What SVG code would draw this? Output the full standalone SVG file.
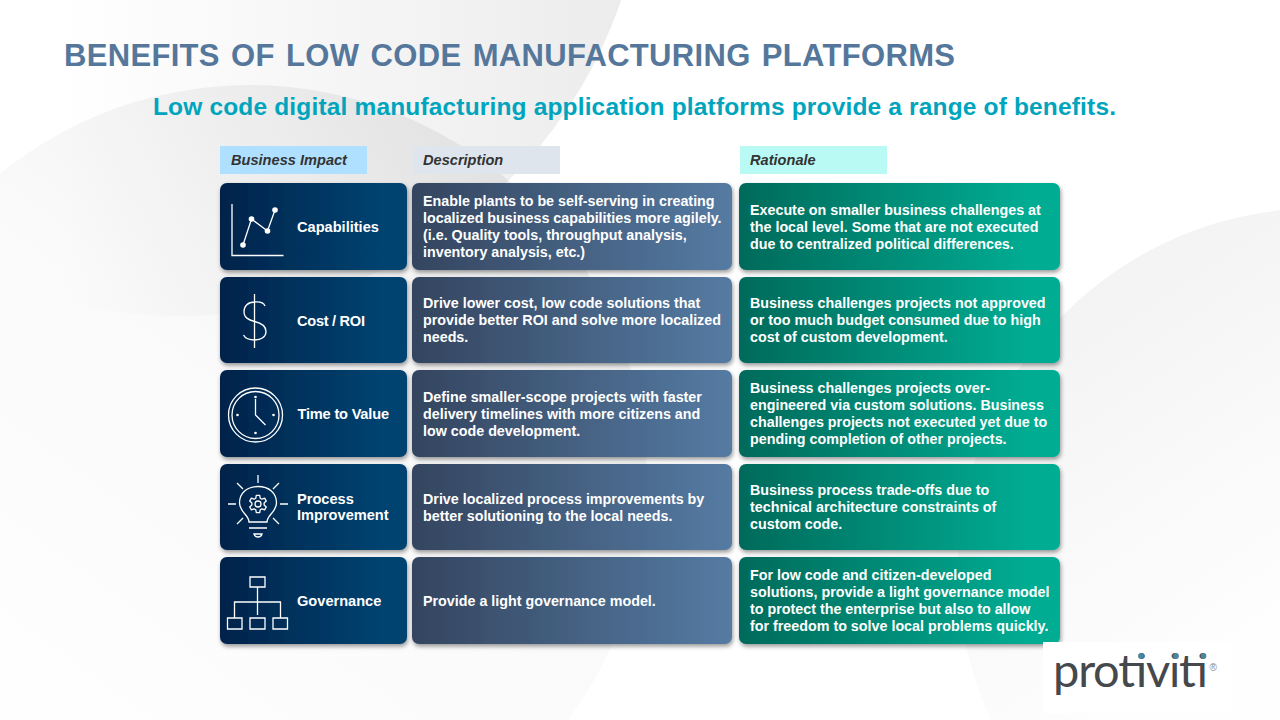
<svg xmlns="http://www.w3.org/2000/svg" width="1280" height="720" viewBox="0 0 1280 720">
<defs>
<linearGradient id="gi" x1="0" y1="0" x2="1" y2="0"><stop offset="0" stop-color="#02234a"/><stop offset="0.85" stop-color="#004270"/></linearGradient>
<linearGradient id="gd" x1="0" y1="0" x2="1" y2="0"><stop offset="0" stop-color="#34455f"/><stop offset="1" stop-color="#557ba3"/></linearGradient>
<linearGradient id="gr" x1="0" y1="0" x2="1" y2="0"><stop offset="0" stop-color="#036a5b"/><stop offset="0.9" stop-color="#00ac92"/></linearGradient>
<filter id="sh" x="-5%" y="-5%" width="110%" height="115%"><feDropShadow dx="1" dy="2.500" stdDeviation="2" flood-color="#000" flood-opacity="0.400"/></filter>
<linearGradient id="bg1" gradientUnits="userSpaceOnUse" x1="60" y1="60" x2="625" y2="60"><stop offset="0" stop-color="#808080" stop-opacity="0"/><stop offset="1" stop-color="#808080" stop-opacity="0.150"/></linearGradient>
<linearGradient id="bg2" gradientUnits="userSpaceOnUse" x1="20" y1="640" x2="420" y2="90"><stop offset="0" stop-color="#808080" stop-opacity="0.010"/><stop offset="0.500" stop-color="#808080" stop-opacity="0.040"/><stop offset="1" stop-color="#808080" stop-opacity="0.130"/></linearGradient>
<linearGradient id="bg3" gradientUnits="userSpaceOnUse" x1="1000" y1="300" x2="1240" y2="660"><stop offset="0" stop-color="#808080" stop-opacity="0.100"/><stop offset="1" stop-color="#808080" stop-opacity="0.005"/></linearGradient>
</defs>
<style>
text{font-family:"Liberation Sans",Arial,sans-serif}
.t{font-size:14.3px;font-weight:700;fill:#fff}
.l{font-size:14.6px;font-weight:700;fill:#fff}
.h{font-size:14.6px;font-weight:700;font-style:italic;fill:#333}
.i{fill:none;stroke:#fff;stroke-width:1.300}
.d{fill:#fff}
.c{filter:url(#sh)}
</style>
<g id="background">
<rect width="1280" height="720" fill="#ffffff"/>
<circle cx="180" cy="-150" r="466" fill="url(#bg1)"/>
<circle cx="250" cy="482" r="397" fill="url(#bg2)"/>
<circle cx="1320" cy="570" r="362" fill="url(#bg3)"/>
</g>
<text id="title" x="64" y="65.500" font-size="31" font-weight="700" fill="#55779b" word-spacing="2.300" textLength="891" lengthAdjust="spacing">BENEFITS OF LOW CODE MANUFACTURING PLATFORMS</text>
<text id="subtitle" x="153" y="115" font-size="24.500" font-weight="700" fill="#00a5bd" textLength="963" lengthAdjust="spacing">Low code digital manufacturing application platforms provide a range of benefits.</text>
<g id="header-impact"><rect x="220" y="146" width="147" height="28" fill="#b0e0ff"/><text class="h" x="231" y="165">Business Impact</text></g>
<g id="header-description"><rect x="413" y="146" width="147" height="28" fill="#dfe5ec"/><text class="h" x="423" y="165">Description</text></g>
<g id="header-rationale"><rect x="740" y="146" width="147" height="28" fill="#b9fbf4"/><text class="h" x="750" y="165">Rationale</text></g>

<g id="node-capabilities">
<rect class="c" x="220" y="183" width="187" height="87" rx="7" fill="url(#gi)"/>
<path class="i" d="M232 204V255.500H283.500M243 245L251.500 219L267.500 231L275 210"/>
<circle class="d" cx="243" cy="245" r="2.800"/><circle class="d" cx="251.500" cy="219" r="2.800"/><circle class="d" cx="267.500" cy="231" r="2.800"/><circle class="d" cx="275" cy="210" r="2.800"/>
<text class="l" x="297" y="232">Capabilities</text>
</g>
<g id="node-cost">
<rect class="c" x="220" y="277" width="187" height="86" rx="7" fill="url(#gi)"/>
<path class="i" d="M254.500 294V348M265 306C263 301 258 302 254.500 302C248 302 244 306 244 311.500C244 318 249 320 254.500 321.500C261 323 266 326 266 331.500C266 337 261 340 255 340C250 340 245.500 339 243.500 335"/>
<text class="l" x="297" y="326" textLength="68" lengthAdjust="spacing">Cost / ROI</text>
</g>
<g id="node-time">
<rect class="c" x="220" y="370" width="187" height="87" rx="7" fill="url(#gi)"/>
<circle class="i" cx="255.500" cy="415" r="27"/><circle class="i" cx="255.500" cy="415" r="23.500"/>
<path class="i" d="M255.500 399V415L265.500 425"/>
<circle class="d" cx="255.500" cy="397" r="1.300"/><circle class="d" cx="255.500" cy="433" r="1.300"/><circle class="d" cx="237.500" cy="415" r="1.300"/><circle class="d" cx="273.500" cy="415" r="1.300"/>
<text class="l" x="297.500" y="419" textLength="91.500" lengthAdjust="spacing">Time to Value</text>
</g>
<g id="node-process">
<rect class="c" x="220" y="464" width="187" height="86" rx="7" fill="url(#gi)"/>
<path class="i" d="M249 522C249 515 239.500 512 239.500 503C239.500 493 247 486.500 258 486.500C269 486.500 276.500 493 276.500 503C276.500 512 267 515 267 522ZM249 528H267M254 534H262C261 538 255 538 254 534ZM258 475V483M228 504H236M280 504H288M237 483L243 489M279 483L273 489M237 524L243 518M279 524L273 518"/>
<circle class="i" cx="258" cy="504" r="3"/>
<path class="i" stroke-linejoin="round" transform="translate(258 504)" d="M-2.200-5.800L-1.700-8.600L1.700-8.600L2.200-5.800L3.900-4.800L6.600-5.800L8.300-2.900L6.100-1L6.100 1L8.300 2.900L6.600 5.800L3.900 4.800L2.200 5.800L1.700 8.600L-1.700 8.600L-2.200 5.800L-3.900 4.800L-6.600 5.800L-8.300 2.900L-6.100 1L-6.100-1L-8.300-2.900L-6.600-5.800L-3.900-4.800Z"/>
<text class="l"><tspan x="297" y="504">Process</tspan><tspan x="297" y="520">Improvement</tspan></text>
</g>
<g id="node-governance">
<rect class="c" x="220" y="557" width="187" height="87" rx="7" fill="url(#gi)"/>
<path class="i" d="M250 577H265V587H250ZM257.500 587V615M234.500 618V602H280.500V618M227.500 618H242V629H227.500ZM250 618H265V629H250ZM273 618H287.500V629H273Z"/>
<text class="l" x="297" y="606">Governance</text>
</g>

<g id="node-desc-1"><rect class="c" x="412" y="183" width="320" height="87" rx="7" fill="url(#gd)"/><text class="t"><tspan x="423" y="206">Enable plants to be self-serving in creating</tspan><tspan x="423" y="223">localized business capabilities more agilely.</tspan><tspan x="423" y="240">(i.e. Quality tools, throughput analysis,</tspan><tspan x="423" y="257">inventory analysis, etc.)</tspan></text></g>
<g id="node-desc-2"><rect class="c" x="412" y="277" width="320" height="86" rx="7" fill="url(#gd)"/><text class="t"><tspan x="423" y="308">Drive lower cost, low code solutions that</tspan><tspan x="423" y="325">provide better ROI and solve more localized</tspan><tspan x="423" y="342">needs.</tspan></text></g>
<g id="node-desc-3"><rect class="c" x="412" y="370" width="320" height="87" rx="7" fill="url(#gd)"/><text class="t"><tspan x="423" y="402">Define smaller-scope projects with faster</tspan><tspan x="423" y="419">delivery timelines with more citizens and</tspan><tspan x="423" y="436">low code development.</tspan></text></g>
<g id="node-desc-4"><rect class="c" x="412" y="464" width="320" height="86" rx="7" fill="url(#gd)"/><text class="t"><tspan x="423" y="504">Drive localized process improvements by</tspan><tspan x="423" y="521">better solutioning to the local needs.</tspan></text></g>
<g id="node-desc-5"><rect class="c" x="412" y="557" width="320" height="87" rx="7" fill="url(#gd)"/><text class="t" x="423" y="606">Provide a light governance model.</text></g>

<g id="node-rat-1"><rect class="c" x="739" y="183" width="321" height="87" rx="7" fill="url(#gr)"/><text class="t"><tspan x="750" y="215">Execute on smaller business challenges at</tspan><tspan x="750" y="232">the local level. Some that are not executed</tspan><tspan x="750" y="249">due to centralized political differences.</tspan></text></g>
<g id="node-rat-2"><rect class="c" x="739" y="277" width="321" height="86" rx="7" fill="url(#gr)"/><text class="t"><tspan x="750" y="308">Business challenges projects not approved</tspan><tspan x="750" y="325">or too much budget consumed due to high</tspan><tspan x="750" y="342">cost of custom development.</tspan></text></g>
<g id="node-rat-3"><rect class="c" x="739" y="370" width="321" height="87" rx="7" fill="url(#gr)"/><text class="t"><tspan x="750" y="393">Business challenges projects over-</tspan><tspan x="750" y="410">engineered via custom solutions. Business</tspan><tspan x="750" y="427">challenges projects not executed yet due to</tspan><tspan x="750" y="444">pending completion of other projects.</tspan></text></g>
<g id="node-rat-4"><rect class="c" x="739" y="464" width="321" height="86" rx="7" fill="url(#gr)"/><text class="t"><tspan x="750" y="495">Business process trade-offs due to</tspan><tspan x="750" y="512">technical architecture constraints of</tspan><tspan x="750" y="529">custom code.</tspan></text></g>
<g id="node-rat-5"><rect class="c" x="739" y="557" width="321" height="87" rx="7" fill="url(#gr)"/><text class="t"><tspan x="750" y="580">For low code and citizen-developed</tspan><tspan x="750" y="597">solutions, provide a light governance model</tspan><tspan x="750" y="614">to protect the enterprise but also to allow</tspan><tspan x="750" y="631">for freedom to solve local problems quickly.</tspan></text></g>

<g id="logo">
<rect x="1043" y="642" width="188" height="71" fill="#ffffff"/>
<text x="1053" y="687" font-size="47" font-weight="400" fill="#45484c" style="font-family:Lato,sans-serif" textLength="155" lengthAdjust="spacing">protiviti</text>
<circle cx="1141" cy="656" r="2.900" fill="#4a86a0"/><circle cx="1176" cy="656" r="2.900" fill="#4a86a0"/><circle cx="1203.500" cy="656" r="2.900" fill="#4a86a0"/>
<text x="1209.500" y="671" font-size="10" fill="#888">®</text>
</g>
</svg>
